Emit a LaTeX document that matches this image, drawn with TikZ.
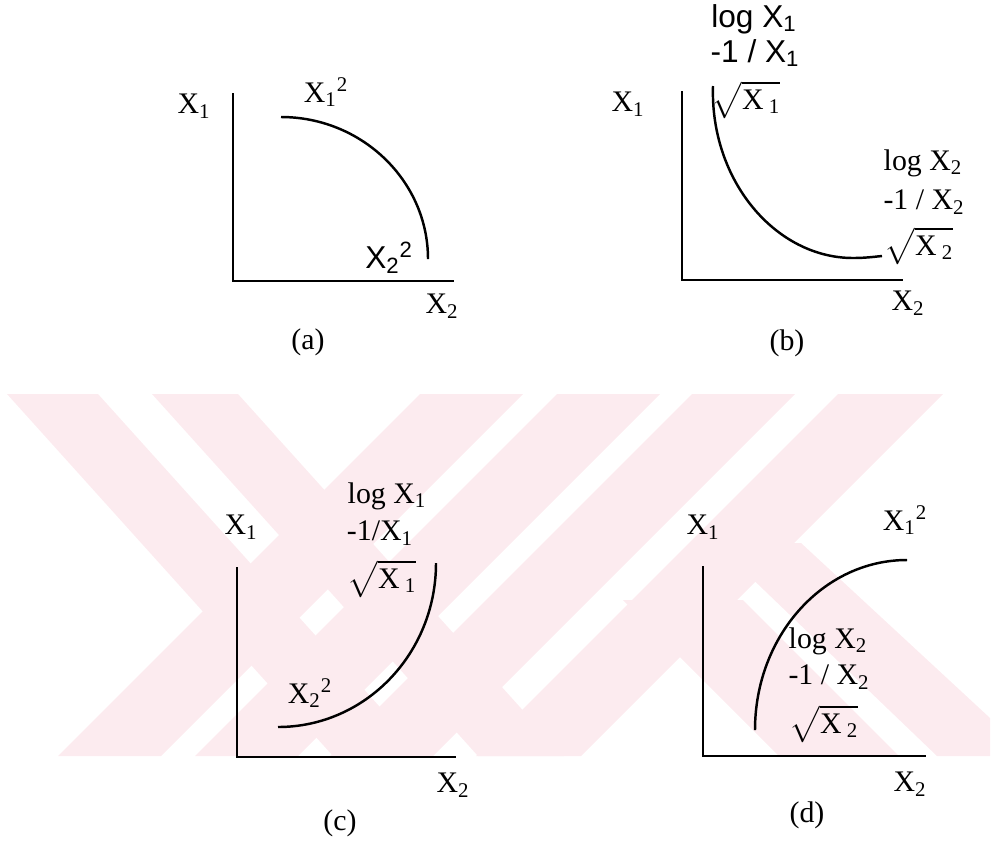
\documentclass[tikz,border=0pt]{standalone}
\usepackage{amsmath}
\usepackage[no-math]{fontspec}
\setmainfont{Liberation Serif}
\newfontfamily\arialfont{Liberation Sans}
\definecolor{wmpink}{RGB}{252,235,239}
\newcommand{\rootlbl}[1]{$\sqrt{\mbox{X\,\textsubscript{#1}}\rule[-5pt]{0pt}{18pt}}$}
\begin{document}
\begin{tikzpicture}[x=0.02cm,y=-0.02cm]
    % Style definitions
    \tikzset{lbl/.style={inner sep=0pt, font=\fontsize{17}{20}\selectfont},
             sanslbl/.style={inner sep=0pt, font=\fontsize{18}{21}\selectfont\arialfont},
             axisline/.style={line width=1.4pt},
             curveline/.style={line width=1.4pt},
             wmband/.style={fill=wmpink, draw=none}}
    \useasboundingbox (0,0) rectangle (1004,843);

    % Background watermark bands
    \fill[wmband] (7,394) -- (98,394) -- (424,756) -- (333,756) -- cycle;
    \fill[wmband] (152,394) -- (238,394) -- (564,756) -- (478,756) -- cycle;
    \fill[wmband] (420,394) -- (523,394) -- (161,756) -- (58,756) -- cycle;
    \fill[wmband] (557,394) -- (660,394) -- (298,756) -- (195,756) -- cycle;
    \fill[wmband] (692,394) -- (795,394) -- (433,756) -- (330,756) -- cycle;
    \fill[wmband] (838,394) -- (943,394) -- (581,756) -- (476,756) -- cycle;
    \fill[wmband] (623,600) -- (743,600) -- (899,756) -- (779,756) -- cycle;
    \fill[wmband] (715,543) -- (801,543) -- (990,718) -- (990,756) -- (937,756) -- cycle;

    % Panel (a)
    \coordinate (aorig) at (233,281);
    \coordinate (atop) at (233,93);
    \coordinate (aright) at (454,281);
    \draw[axisline] (atop) -- (aorig) -- (aright);
    \coordinate (astart) at (281,117);
    \coordinate (aend) at (428,259);
    \draw[curveline] (astart) .. controls +(81,0) and +(0,-78) .. (aend);
    \node (ax1) [lbl] at (194,106) {X\textsubscript{1}};
    \node (ax1sq) [lbl] at (326,92) {X\textsubscript{1}\textsuperscript{2}};
    \node (ax2sq) [sanslbl] at (389,258) {X\textsubscript{2}\textsuperscript{2}};
    \node (ax2) [lbl] at (442,306) {X\textsubscript{2}};
    \node (acap) [lbl] at (308,342) {(a)};

    % Panel (b)
    \coordinate (borig) at (682,280);
    \coordinate (btop) at (682,91);
    \coordinate (bright) at (903,280);
    \draw[axisline] (btop) -- (borig) -- (bright);
    \coordinate (bstart) at (713,86);
    \coordinate (bbottom) at (853,258);
    \coordinate (bend) at (882,256);
    \draw[curveline] (bstart) .. controls +(-3,95) and +(-77,0) .. (bbottom)
        .. controls +(12,0) and +(-10,1) .. (bend);
    \node (bx1) [lbl] at (628,104) {X\textsubscript{1}};
    \node (blog1) [sanslbl] at (754,19) {log X\textsubscript{1}};
    \node (binv1) [sanslbl] at (755,53) {-1 / X\textsubscript{1}};
    \node (bsqrt1) [lbl] at (746,100) {\rootlbl{1}};
    \node (blog2) [lbl] at (923,163) {log X\textsubscript{2}};
    \node (binv2) [lbl] at (924,202) {-1 / X\textsubscript{2}};
    \node (bsqrt2) [lbl] at (919,246) {\rootlbl{2}};
    \node (bx2) [lbl] at (908,303) {X\textsubscript{2}};
    \node (bcap) [lbl] at (787,343) {(b)};

    % Panel (c)
    \coordinate (corig) at (237,757);
    \coordinate (ctop) at (237,567);
    \coordinate (cright) at (456,757);
    \draw[axisline] (ctop) -- (corig) -- (cright);
    \coordinate (cstart) at (278,727);
    \coordinate (cend) at (436,563);
    \draw[curveline] (cstart) .. controls +(87,0) and +(0,91) .. (cend);
    \node (cx1) [lbl] at (241,527) {X\textsubscript{1}};
    \node (clog1) [lbl] at (387,496) {log X\textsubscript{1}};
    \node (cinv1) [lbl] at (380,533) {-1/X\textsubscript{1}};
    \node (csqrt1) [lbl] at (382,579) {\rootlbl{1}};
    \node (cx2sq) [lbl] at (310,693) {X\textsubscript{2}\textsuperscript{2}};
    \node (cx2) [lbl] at (453,785) {X\textsubscript{2}};
    \node (ccap) [lbl] at (340,823) {(c)};

    % Panel (d)
    \coordinate (dorig) at (703,756);
    \coordinate (dtop) at (703,566);
    \coordinate (dright) at (926,756);
    \draw[axisline] (dtop) -- (dorig) -- (dright);
    \coordinate (dstart) at (755,730);
    \coordinate (dend) at (907,560);
    \draw[curveline] (dstart) .. controls +(0,-94) and +(-84,0) .. (dend);
    \node (dx1) [lbl] at (703,527) {X\textsubscript{1}};
    \node (dx1sq) [lbl] at (905,520) {X\textsubscript{1}\textsuperscript{2}};
    \node (dlog2) [lbl] at (828,641) {log X\textsubscript{2}};
    \node (dinv2) [lbl] at (829,677) {-1 / X\textsubscript{2}};
    \node (dsqrt2) [lbl] at (824,724) {\rootlbl{2}};
    \node (dx2) [lbl] at (910,784) {X\textsubscript{2}};
    \node (dcap) [lbl] at (807,815) {(d)};
\end{tikzpicture}
\end{document}
